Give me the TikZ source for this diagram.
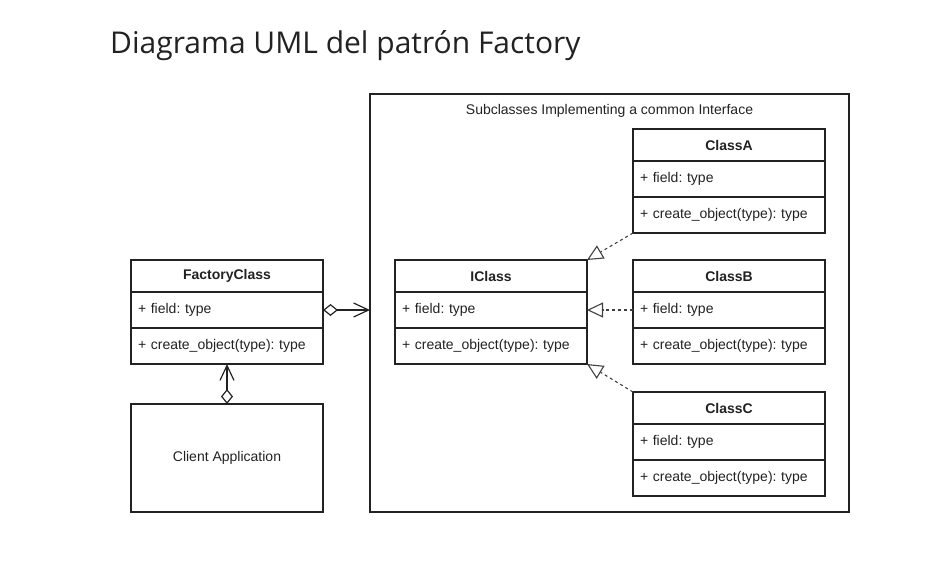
\documentclass[tikz,border=0pt]{standalone}
\usepackage{fontspec}
\setmainfont{Liberation Sans}
\newfontfamily\titlefont{Open Sans}
\usetikzlibrary{positioning,arrows.meta}
\definecolor{ink}{HTML}{222222}
\newcommand\umlfont{\fontsize{14}{16}\selectfont}
\frenchspacing
\tikzset{
  box/.style={draw=ink, line width=1.2pt, outer sep=0pt, inner sep=0pt,
    minimum width=192pt, font=\umlfont, text=ink},
  head/.style={box, minimum height=32pt, font=\umlfont\bfseries},
  row/.style={box, minimum height=36pt, text width=178pt, align=left},
  agg/.style={draw=ink, line width=1.2pt,
    {Diamond[open,length=15pt,width=12pt]}-{Straight Barb[length=15pt,width=14pt]}},
  real/.style={draw=black!75, line width=1.1pt, dash pattern=on 3pt off 3pt,
    -{Triangle[open,length=16pt,width=15pt]}}
}
% one class = header, field row, method row
\newcommand\umlclass[3]{%
  \node[head, anchor=north west] (#1) at (#2) {#3};
  \node[row, below=0pt of #1] (#1-f) {+ field: type};
  \node[row, below=0pt of #1-f] (#1-m) {+ create\_object(type): type};
}
\begin{document}
\begin{tikzpicture}[x=1pt,y=-1pt]
  \useasboundingbox (0,0) rectangle (932,563);
  \node[anchor=base west, inner sep=0pt, text=ink, font=\titlefont\fontsize{30}{34}\selectfont]
    (title) at (110,53) {Diagrama UML del patrón Factory};

  % frame of the subclasses
  \node[draw=ink, line width=1.2pt, outer sep=0pt, minimum width=479pt,
    minimum height=418pt, anchor=north west] (sub) at (370,94) {};
  \node[font=\umlfont, text=ink] (subt) at (609.5,111) {Subclasses Implementing a common Interface};

  \umlclass{fc}{131,260}{FactoryClass}
  \umlclass{ic}{395,260}{IClass}
  \umlclass{ca}{633,129}{ClassA}
  \umlclass{cb}{633,260}{ClassB}
  \umlclass{cc}{633,392}{ClassC}

  \node[box, minimum height=108pt, anchor=north west] (client) at (131,404) {Client Application};

  \draw[agg] (fc-f.east) -- (fc-f.east -| sub.west);
  \draw[agg] (client.north) -- (fc-m.south);

  \draw[real] (ca-m.south west) -- (ic.north east);
  \draw[real] (cb-f.west) -- (ic-f.east);
  \draw[real] (cc.north west) -- (ic-m.south east);
\end{tikzpicture}
\end{document}
